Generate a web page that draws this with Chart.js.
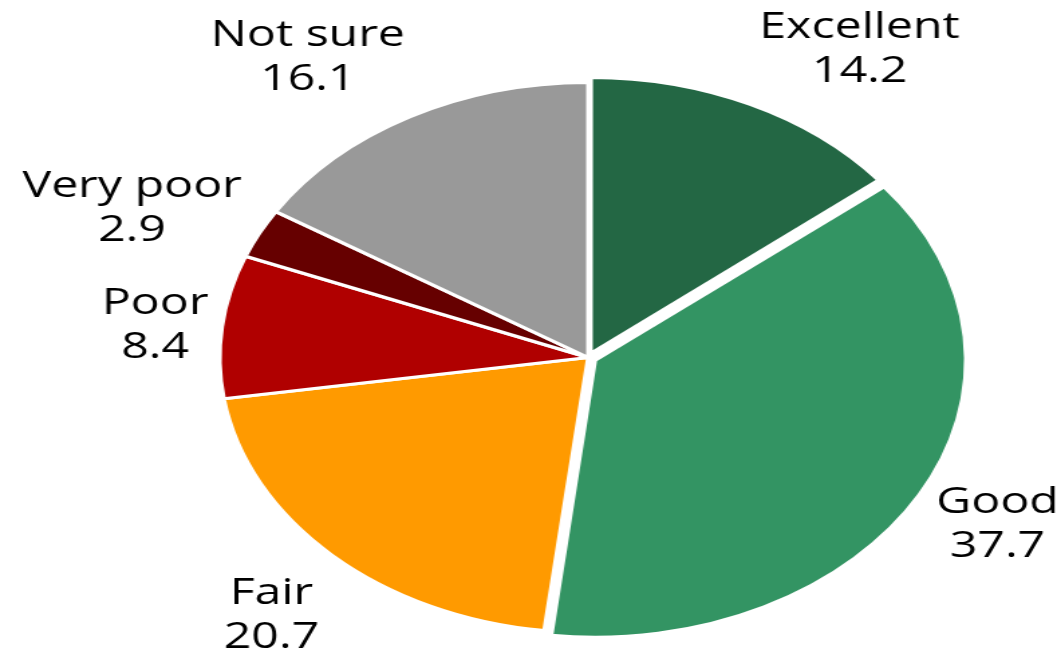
<!DOCTYPE html>
<html>
<head>
<meta charset="utf-8">
<script src="https://cdn.jsdelivr.net/npm/chart.js@4/dist/chart.umd.min.js"></script>
<style>
  html, body { margin: 0; padding: 0; background: #fff; overflow: hidden; }
  #pie { display: block; }
</style>
</head>
<body>
<!-- the pie is drawn round on a narrower canvas, then stretched sideways into an oval -->
<canvas id="pie" width="792" height="655" style="width:1061px;height:655px"></canvas>
<script>
const CATEGORIES = ["Excellent", "Good", "Fair", "Poor", "Very poor", "Not sure"];
const VALUES     = [14.2, 37.7, 20.7, 8.4, 2.9, 16.1];
const COLORS     = ["#236744", "#339463", "#ff9a00", "#b00000", "#660000", "#999999"];
// Chart.js moves an arc by offset / 4 px
const EXPLODE    = [18, 24, 0, 0, 0, 0];

// where each label sits, relative to the rim at the slice's middle angle
const LABEL_NUDGE = [
  [84, -60], [65, 34], [-45, 61], [-50, -1], [-95, -25], [-76, -59]
];

const sliceLabels = {
  id: "sliceLabels",
  afterDraw(chart) {
    const ctx  = chart.ctx;
    const arcs = chart.getDatasetMeta(0).data;
    ctx.save();
    ctx.font = '36px "Open Sans", sans-serif';
    ctx.fillStyle = "#000";
    ctx.textAlign = "center";
    ctx.textBaseline = "middle";
    arcs.forEach((arc, i) => {
      const { x, y, startAngle, endAngle, outerRadius } = arc.getProps(
        ["x", "y", "startAngle", "endAngle", "outerRadius"], true);
      const mid = (startAngle + endAngle) / 2;
      const cx = x + Math.cos(mid) * outerRadius + LABEL_NUDGE[i][0];
      const cy = y + Math.sin(mid) * outerRadius + LABEL_NUDGE[i][1];
      ctx.fillText(CATEGORIES[i], cx, cy - 22);
      ctx.fillText(VALUES[i].toFixed(1), cx, cy + 22);
    });
    ctx.restore();
  }
};

new Chart(document.getElementById("pie"), {
  type: "pie",
  data: {
    labels: CATEGORIES,
    datasets: [{
      data: VALUES,
      backgroundColor: COLORS,
      borderColor: "#fff",
      borderWidth: 3,
      offset: EXPLODE,
      radius: 275
    }]
  },
  options: {
    responsive: false,
    devicePixelRatio: 1,
    animation: false,
    layout: { padding: { left: 86, top: 60, right: 0, bottom: 0 } },
    plugins: {
      legend: { display: false },
      tooltip: { enabled: false }
    }
  },
  plugins: [sliceLabels]
});
</script>
</body>
</html>
